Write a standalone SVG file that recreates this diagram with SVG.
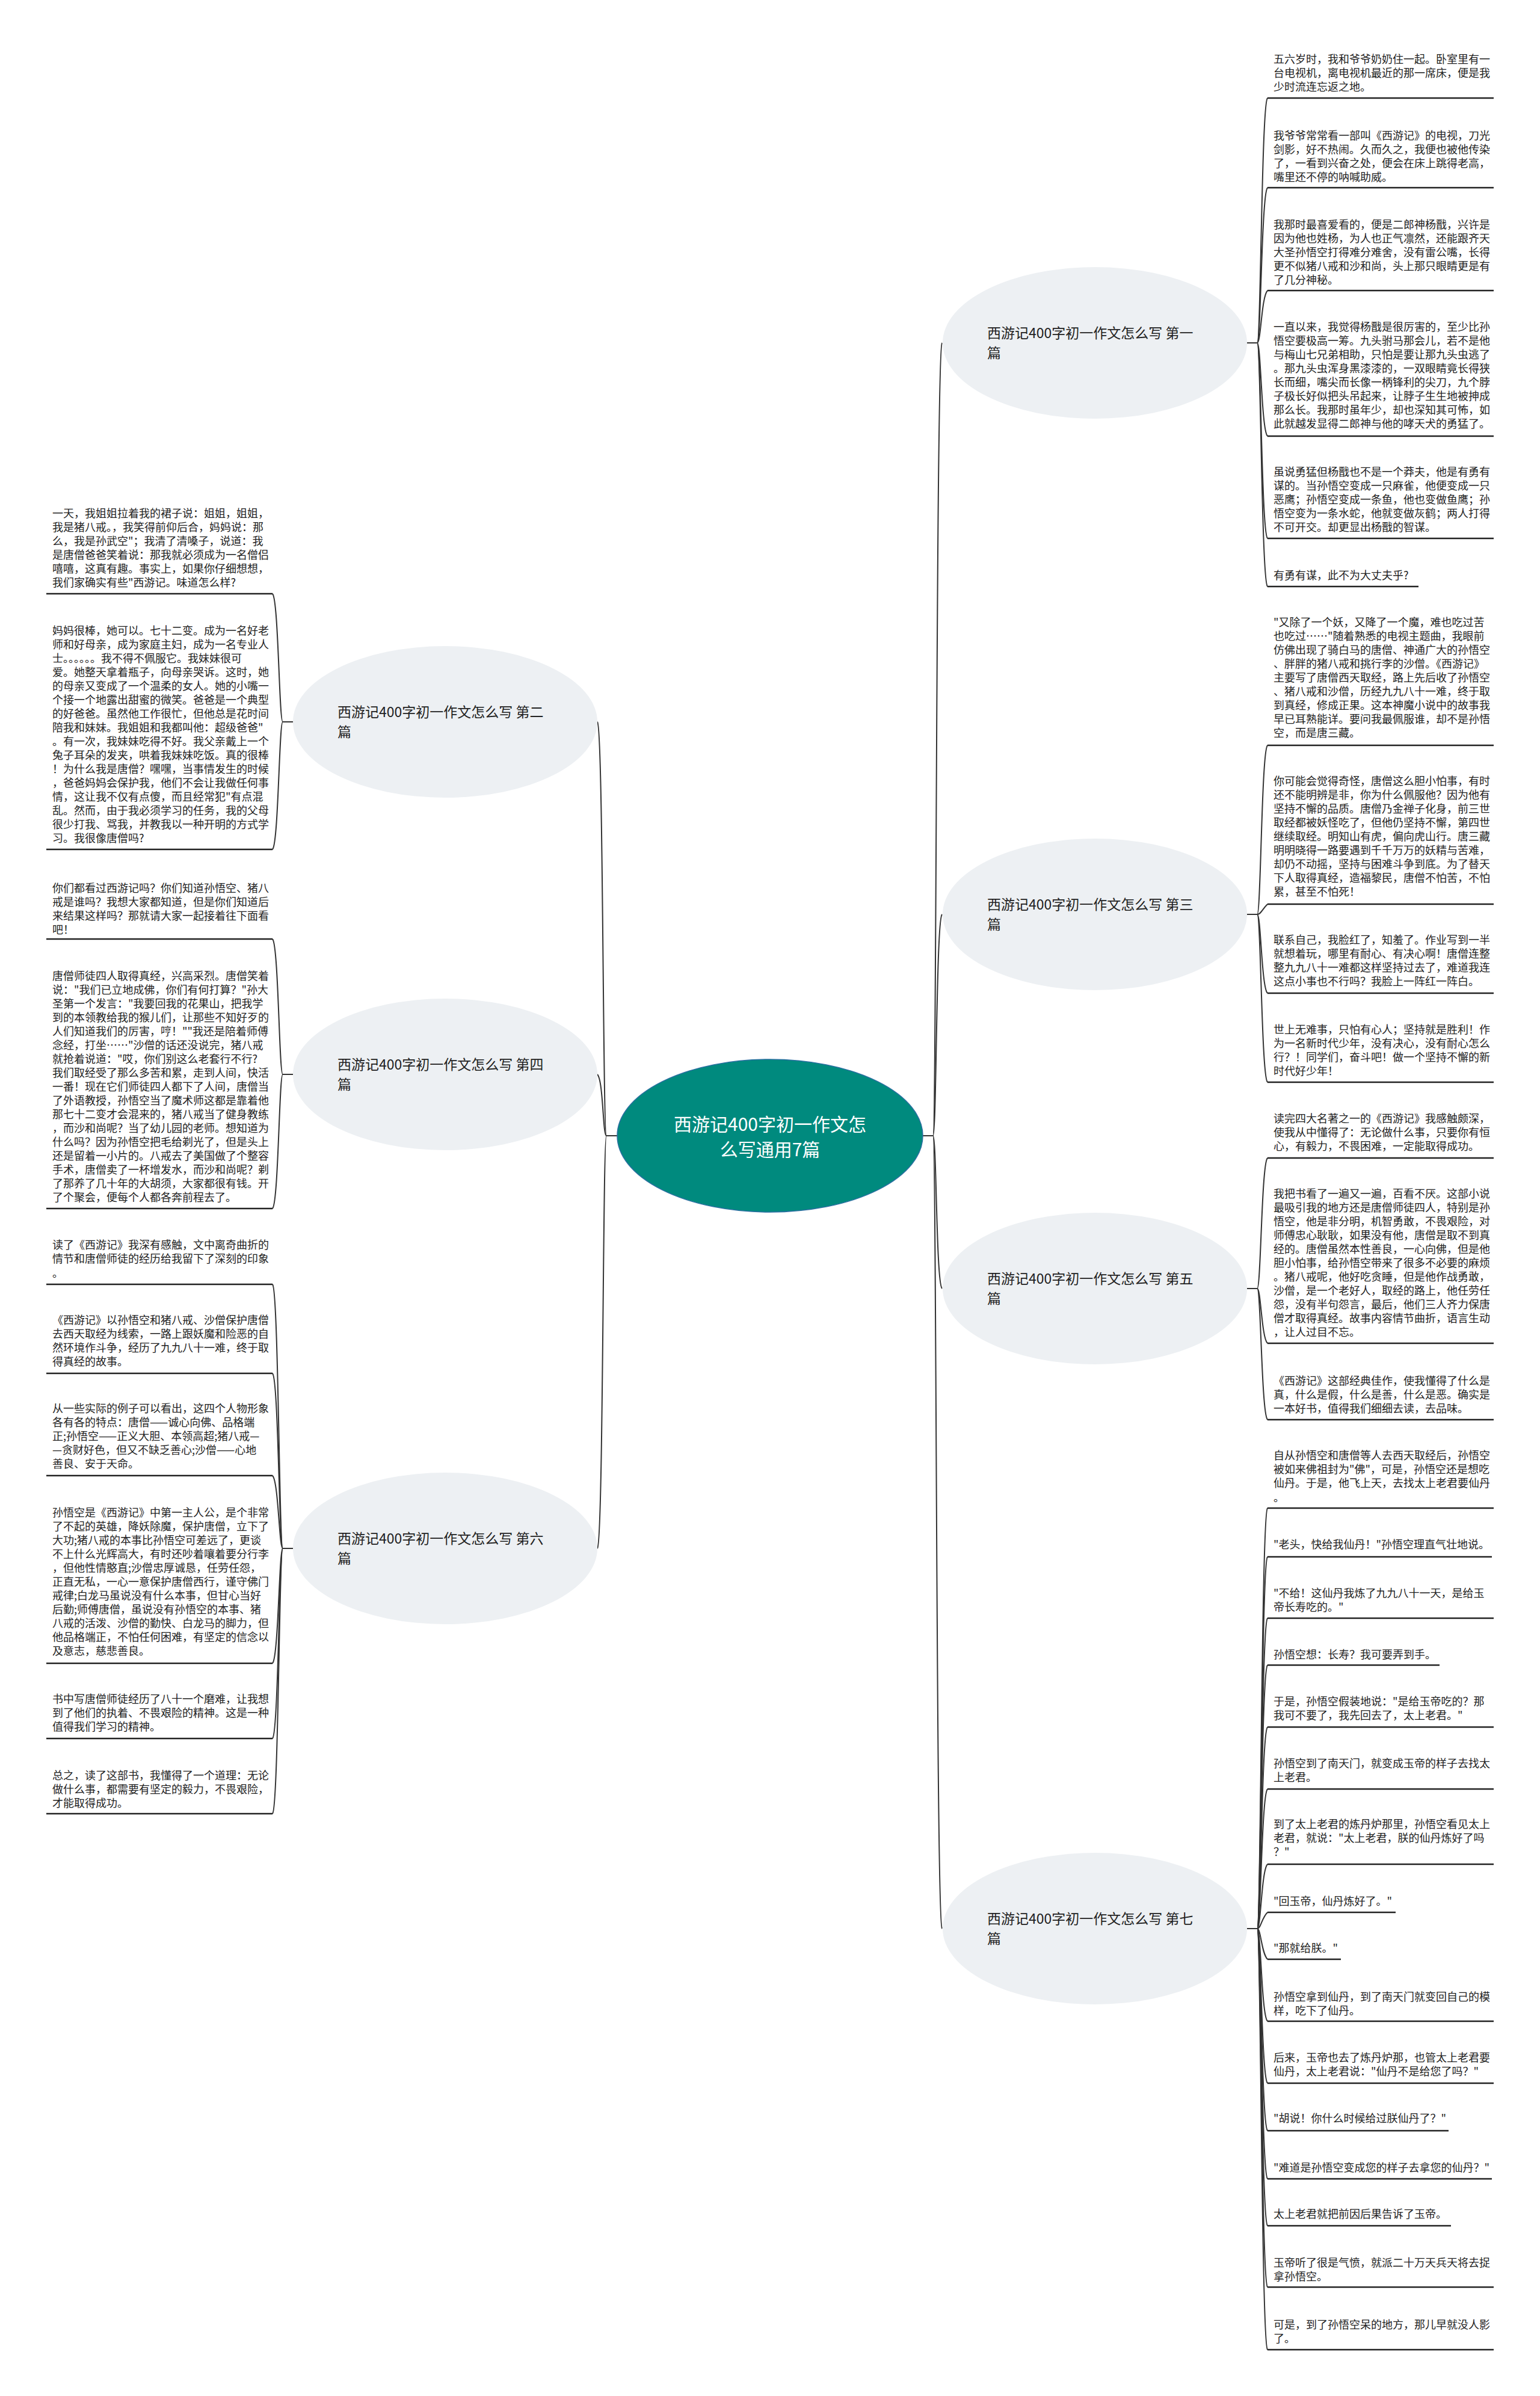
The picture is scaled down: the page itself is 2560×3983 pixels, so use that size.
<svg xmlns="http://www.w3.org/2000/svg" width="2560" height="3983" viewBox="0 0 2560 3983">
<style>
text{font-family:"Noto Sans CJK SC","Noto Sans",sans-serif;}
.lt{font-size:18px;fill:#222;}
.bt{font-size:23px;fill:#222;}
.ct{font-size:30px;fill:#fff;text-anchor:middle;}
.ul{stroke:#222;stroke-width:2.5;}
.br{fill:#EDF0F3;}
.conn path{fill:none;stroke:#333;stroke-width:2;}
</style>
<rect width="2560" height="3983" fill="#fff"/>
<g class="conn" id="connectors">
<path d="M1534,1888 H1551 C1557,1888 1556,580 1566,570"/>
<path d="M1534,1888 H1551 C1557,1888 1556,1530 1566,1520"/>
<path d="M1534,1888 H1551 C1557,1888 1556,2132 1566,2142"/>
<path d="M1534,1888 H1551 C1557,1888 1556,3196 1566,3206"/>
<path d="M1026,1888 H1008 C1002,1888 1003,1210 993,1200"/>
<path d="M1026,1888 H1008 C1002,1888 1003,1796 993,1786"/>
<path d="M1026,1888 H1008 C1002,1888 1003,2564 993,2574"/>
<path d="M2073,570 H2090 C2096,570 2097,173 2107,163"/>
<path d="M2073,570 H2090 C2096,570 2097,322 2107,312"/>
<path d="M2073,570 H2090 C2096,570 2097,493 2107,483"/>
<path d="M2073,570 H2090 C2096,570 2097,715 2107,725"/>
<path d="M2073,570 H2090 C2096,570 2097,885 2107,895"/>
<path d="M2073,570 H2090 C2096,570 2097,965 2107,975"/>
<path d="M2073,1520 H2090 C2096,1520 2097,1249 2107,1239"/>
<path d="M2073,1520 H2090 C2096,1520 2097,1513 2107,1503"/>
<path d="M2073,1520 H2090 C2096,1520 2097,1641 2107,1651"/>
<path d="M2073,1520 H2090 C2096,1520 2097,1789 2107,1799"/>
<path d="M2073,2142 H2090 C2096,2142 2097,1935 2107,1925"/>
<path d="M2073,2142 H2090 C2096,2142 2097,2223 2107,2233"/>
<path d="M2073,2142 H2090 C2096,2142 2097,2350 2107,2360"/>
<path d="M2073,3206 H2090 C2096,3206 2097,2517 2107,2507"/>
<path d="M2073,3206 H2090 C2096,3206 2097,2598 2107,2588"/>
<path d="M2073,3206 H2090 C2096,3206 2097,2700 2107,2690"/>
<path d="M2073,3206 H2090 C2096,3206 2097,2778 2107,2768"/>
<path d="M2073,3206 H2090 C2096,3206 2097,2881 2107,2871"/>
<path d="M2073,3206 H2090 C2096,3206 2097,2984 2107,2974"/>
<path d="M2073,3206 H2090 C2096,3206 2097,3109 2107,3099"/>
<path d="M2073,3206 H2090 C2096,3206 2097,3189 2107,3179"/>
<path d="M2073,3206 H2090 C2096,3206 2097,3247 2107,3257"/>
<path d="M2073,3206 H2090 C2096,3206 2097,3350 2107,3360"/>
<path d="M2073,3206 H2090 C2096,3206 2097,3453 2107,3463"/>
<path d="M2073,3206 H2090 C2096,3206 2097,3532 2107,3542"/>
<path d="M2073,3206 H2090 C2096,3206 2097,3612 2107,3622"/>
<path d="M2073,3206 H2090 C2096,3206 2097,3690 2107,3700"/>
<path d="M2073,3206 H2090 C2096,3206 2097,3792 2107,3802"/>
<path d="M2073,3206 H2090 C2096,3206 2097,3896 2107,3906"/>
<path d="M487,1200 H470 C464,1200 463,997 453,987"/>
<path d="M487,1200 H470 C464,1200 463,1402 453,1412"/>
<path d="M487,1786 H470 C464,1786 463,1571 453,1561"/>
<path d="M487,1786 H470 C464,1786 463,1999 453,2009"/>
<path d="M487,2574 H470 C464,2574 463,2145 453,2135"/>
<path d="M487,2574 H470 C464,2574 463,2293 453,2283"/>
<path d="M487,2574 H470 C464,2574 463,2463 453,2453"/>
<path d="M487,2574 H470 C464,2574 463,2755 453,2765"/>
<path d="M487,2574 H470 C464,2574 463,2880 453,2890"/>
<path d="M487,2574 H470 C464,2574 463,3005 453,3015"/>
</g>
<g id="center">
<ellipse cx="1280" cy="1888" rx="254" ry="127" fill="#008A7E" stroke="#2A6FA0" stroke-width="1.5"/>
<text class="ct"><tspan x="1280" y="1880">西游记400字初一作文怎</tspan><tspan x="1280" y="1922">么写通用7篇</tspan></text>
</g>
<g id="b1"><ellipse class="br" cx="1820" cy="570" rx="253" ry="126"/><text class="bt"><tspan x="1641" y="561.5">西游记400字初一作文怎么写 第一</tspan><tspan x="1641" y="594.5">篇</tspan></text></g>
<g id="b2"><ellipse class="br" cx="740" cy="1200" rx="253" ry="126"/><text class="bt"><tspan x="561" y="1191.5">西游记400字初一作文怎么写 第二</tspan><tspan x="561" y="1224.5">篇</tspan></text></g>
<g id="b3"><ellipse class="br" cx="1820" cy="1520" rx="253" ry="126"/><text class="bt"><tspan x="1641" y="1511.5">西游记400字初一作文怎么写 第三</tspan><tspan x="1641" y="1544.5">篇</tspan></text></g>
<g id="b4"><ellipse class="br" cx="740" cy="1786" rx="253" ry="126"/><text class="bt"><tspan x="561" y="1777.5">西游记400字初一作文怎么写 第四</tspan><tspan x="561" y="1810.5">篇</tspan></text></g>
<g id="b5"><ellipse class="br" cx="1820" cy="2142" rx="253" ry="126"/><text class="bt"><tspan x="1641" y="2133.5">西游记400字初一作文怎么写 第五</tspan><tspan x="1641" y="2166.5">篇</tspan></text></g>
<g id="b6"><ellipse class="br" cx="740" cy="2574" rx="253" ry="126"/><text class="bt"><tspan x="561" y="2565.5">西游记400字初一作文怎么写 第六</tspan><tspan x="561" y="2598.5">篇</tspan></text></g>
<g id="b7"><ellipse class="br" cx="1820" cy="3206" rx="253" ry="126"/><text class="bt"><tspan x="1641" y="3197.5">西游记400字初一作文怎么写 第七</tspan><tspan x="1641" y="3230.5">篇</tspan></text></g>

<g id="r1a"><text class="lt" x="2117" y="105.3"><tspan x="2117" y="105.3">五六岁时，我和爷爷奶奶住一起。卧室里有一</tspan><tspan x="2117" dy="23">台电视机，离电视机最近的那一席床，便是我</tspan><tspan x="2117" dy="23">少时流连忘返之地。</tspan></text><line class="ul" x1="2107" y1="163" x2="2483" y2="163"/></g>
<g id="r1b"><text class="lt" x="2117" y="231.8"><tspan x="2117" y="231.8">我爷爷常常看一部叫《西游记》的电视，刀光</tspan><tspan x="2117" dy="23">剑影，好不热闹。久而久之，我便也被他传染</tspan><tspan x="2117" dy="23">了，一看到兴奋之处，便会在床上跳得老高，</tspan><tspan x="2117" dy="23">嘴里还不停的呐喊助威。</tspan></text><line class="ul" x1="2107" y1="312" x2="2483" y2="312"/></g>
<g id="r1c"><text class="lt" x="2117" y="380"><tspan x="2117" y="380">我那时最喜爱看的，便是二郎神杨戬，兴许是</tspan><tspan x="2117" dy="23">因为他也姓杨，为人也正气凛然，还能跟齐天</tspan><tspan x="2117" dy="23">大圣孙悟空打得难分难舍，没有雷公嘴，长得</tspan><tspan x="2117" dy="23">更不似猪八戒和沙和尚，头上那只眼睛更是有</tspan><tspan x="2117" dy="23">了几分神秘。</tspan></text><line class="ul" x1="2107" y1="483" x2="2483" y2="483"/></g>
<g id="r1d"><text class="lt" x="2117" y="550.2"><tspan x="2117" y="550.2">一直以来，我觉得杨戬是很厉害的，至少比孙</tspan><tspan x="2117" dy="23">悟空要极高一筹。九头驸马那会儿，若不是他</tspan><tspan x="2117" dy="23">与梅山七兄弟相助，只怕是要让那九头虫逃了</tspan><tspan x="2117" dy="23">。那九头虫浑身黑漆漆的，一双眼睛竟长得狭</tspan><tspan x="2117" dy="23">长而细，嘴尖而长像一柄锋利的尖刀，九个脖</tspan><tspan x="2117" dy="23">子极长好似把头吊起来，让脖子生生地被抻成</tspan><tspan x="2117" dy="23">那么长。我那时虽年少，却也深知其可怖，如</tspan><tspan x="2117" dy="23">此就越发显得二郎神与他的哮天犬的勇猛了。</tspan></text><line class="ul" x1="2107" y1="725" x2="2483" y2="725"/></g>
<g id="r1e"><text class="lt" x="2117" y="791.3"><tspan x="2117" y="791.3">虽说勇猛但杨戬也不是一个莽夫，他是有勇有</tspan><tspan x="2117" dy="23">谋的。当孙悟空变成一只麻雀，他便变成一只</tspan><tspan x="2117" dy="23">恶鹰；孙悟空变成一条鱼，他也变做鱼鹰；孙</tspan><tspan x="2117" dy="23">悟空变为一条水蛇，他就变做灰鹤；两人打得</tspan><tspan x="2117" dy="23">不可开交。却更显出杨戬的智谋。</tspan></text><line class="ul" x1="2107" y1="895" x2="2483" y2="895"/></g>
<g id="r1f"><text class="lt" x="2117" y="963.2">有勇有谋，此不为大丈夫乎?</text><line class="ul" x1="2107" y1="975" x2="2358" y2="975"/></g>

<g id="r3a"><text class="lt" x="2117" y="1040.8"><tspan x="2117" y="1040.8">"又除了一个妖，又降了一个魔，难也吃过苦</tspan><tspan x="2117" dy="23">也吃过……"随着熟悉的电视主题曲，我眼前</tspan><tspan x="2117" dy="23">仿佛出现了骑白马的唐僧、神通广大的孙悟空</tspan><tspan x="2117" dy="23">、胖胖的猪八戒和挑行李的沙僧。《西游记》</tspan><tspan x="2117" dy="23">主要写了唐僧西天取经，路上先后收了孙悟空</tspan><tspan x="2117" dy="23">、猪八戒和沙僧，历经九九八十一难，终于取</tspan><tspan x="2117" dy="23">到真经，修成正果。这本神魔小说中的故事我</tspan><tspan x="2117" dy="23">早已耳熟能详。要问我最佩服谁，却不是孙悟</tspan><tspan x="2117" dy="23">空，而是唐三藏。</tspan></text><line class="ul" x1="2107" y1="1239" x2="2483" y2="1239"/></g>
<g id="r3b"><text class="lt" x="2117" y="1304.6"><tspan x="2117" y="1304.6">你可能会觉得奇怪，唐僧这么胆小怕事，有时</tspan><tspan x="2117" dy="23">还不能明辨是非，你为什么佩服他？因为他有</tspan><tspan x="2117" dy="23">坚持不懈的品质。唐僧乃金禅子化身，前三世</tspan><tspan x="2117" dy="23">取经都被妖怪吃了，但他仍坚持不懈，第四世</tspan><tspan x="2117" dy="23">继续取经。明知山有虎，偏向虎山行。唐三藏</tspan><tspan x="2117" dy="23">明明晓得一路要遇到千千万万的妖精与苦难，</tspan><tspan x="2117" dy="23">却仍不动摇，坚持与困难斗争到底。为了替天</tspan><tspan x="2117" dy="23">下人取得真经，造福黎民，唐僧不怕苦，不怕</tspan><tspan x="2117" dy="23">累，甚至不怕死！</tspan></text><line class="ul" x1="2107" y1="1503" x2="2483" y2="1503"/></g>
<g id="r3c"><text class="lt" x="2117" y="1568.8"><tspan x="2117" y="1568.8">联系自己，我脸红了，知羞了。作业写到一半</tspan><tspan x="2117" dy="23">就想着玩，哪里有耐心、有决心啊！唐僧连整</tspan><tspan x="2117" dy="23">整九九八十一难都这样坚持过去了，难道我连</tspan><tspan x="2117" dy="23">这点小事也不行吗？我脸上一阵红一阵白。</tspan></text><line class="ul" x1="2107" y1="1651" x2="2483" y2="1651"/></g>
<g id="r3d"><text class="lt" x="2117" y="1718.1"><tspan x="2117" y="1718.1">世上无难事，只怕有心人；坚持就是胜利！作</tspan><tspan x="2117" dy="23">为一名新时代少年，没有决心，没有耐心怎么</tspan><tspan x="2117" dy="23">行？！同学们，奋斗吧！做一个坚持不懈的新</tspan><tspan x="2117" dy="23">时代好少年！</tspan></text><line class="ul" x1="2107" y1="1799" x2="2483" y2="1799"/></g>

<g id="r5a"><text class="lt" x="2117" y="1865.6"><tspan x="2117" y="1865.6">读完四大名著之一的《西游记》我感触颇深，</tspan><tspan x="2117" dy="23">使我从中懂得了：无论做什么事，只要你有恒</tspan><tspan x="2117" dy="23">心，有毅力，不畏困难，一定能取得成功。</tspan></text><line class="ul" x1="2107" y1="1925" x2="2483" y2="1925"/></g>
<g id="r5b"><text class="lt" x="2117" y="1990.7"><tspan x="2117" y="1990.7">我把书看了一遍又一遍，百看不厌。这部小说</tspan><tspan x="2117" dy="23">最吸引我的地方还是唐僧师徒四人，特别是孙</tspan><tspan x="2117" dy="23">悟空，他是非分明，机智勇敢，不畏艰险，对</tspan><tspan x="2117" dy="23">师傅忠心耿耿，如果没有他，唐僧是取不到真</tspan><tspan x="2117" dy="23">经的。唐僧虽然本性善良，一心向佛，但是他</tspan><tspan x="2117" dy="23">胆小怕事，给孙悟空带来了很多不必要的麻烦</tspan><tspan x="2117" dy="23">。猪八戒呢，他好吃贪睡，但是他作战勇敢，</tspan><tspan x="2117" dy="23">沙僧，是一个老好人，取经的路上，他任劳任</tspan><tspan x="2117" dy="23">怨，没有半句怨言，最后，他们三人齐力保唐</tspan><tspan x="2117" dy="23">僧才取得真经。故事内容情节曲折，语言生动</tspan><tspan x="2117" dy="23">，让人过目不忘。</tspan></text><line class="ul" x1="2107" y1="2233" x2="2483" y2="2233"/></g>
<g id="r5c"><text class="lt" x="2117" y="2302.1"><tspan x="2117" y="2302.1">《西游记》这部经典佳作，使我懂得了什么是</tspan><tspan x="2117" dy="23">真，什么是假，什么是善，什么是恶。确实是</tspan><tspan x="2117" dy="23">一本好书，值得我们细细去读，去品味。</tspan></text><line class="ul" x1="2107" y1="2360" x2="2483" y2="2360"/></g>

<g id="r7a"><text class="lt" x="2117" y="2425.8"><tspan x="2117" y="2425.8">自从孙悟空和唐僧等人去西天取经后，孙悟空</tspan><tspan x="2117" dy="23">被如来佛祖封为"佛"，可是，孙悟空还是想吃</tspan><tspan x="2117" dy="23">仙丹。于是，他飞上天，去找太上老君要仙丹</tspan><tspan x="2117" dy="24">。</tspan></text><line class="ul" x1="2107" y1="2507" x2="2483" y2="2507"/></g>
<g id="r7b"><text class="lt" x="2117" y="2574">"老头，快给我仙丹！"孙悟空理直气壮地说。</text><line class="ul" x1="2107" y1="2588" x2="2480" y2="2588"/></g>
<g id="r7c"><text class="lt" x="2117" y="2654.5"><tspan x="2117" y="2654.5">"不给！这仙丹我炼了九九八十一天，是给玉</tspan><tspan x="2117" dy="23">帝长寿吃的。"</tspan></text><line class="ul" x1="2107" y1="2690" x2="2483" y2="2690"/></g>
<g id="r7d"><text class="lt" x="2117" y="2757">孙悟空想：长寿？我可要弄到手。</text><line class="ul" x1="2107" y1="2768" x2="2393" y2="2768"/></g>
<g id="r7e"><text class="lt" x="2117" y="2835.3"><tspan x="2117" y="2835.3">于是，孙悟空假装地说："是给玉帝吃的？那</tspan><tspan x="2117" dy="23">我可不要了，我先回去了，太上老君。"</tspan></text><line class="ul" x1="2107" y1="2871" x2="2483" y2="2871"/></g>
<g id="r7f"><text class="lt" x="2117" y="2938"><tspan x="2117" y="2938">孙悟空到了南天门，就变成玉帝的样子去找太</tspan><tspan x="2117" dy="23">上老君。</tspan></text><line class="ul" x1="2107" y1="2974" x2="2483" y2="2974"/></g>
<g id="r7g"><text class="lt" x="2117" y="3038.5"><tspan x="2117" y="3038.5">到了太上老君的炼丹炉那里，孙悟空看见太上</tspan><tspan x="2117" dy="23">老君，就说："太上老君，朕的仙丹炼好了吗</tspan><tspan x="2117" dy="23">？"</tspan></text><line class="ul" x1="2107" y1="3099" x2="2483" y2="3099"/></g>
<g id="r7h"><text class="lt" x="2117" y="3166.5">"回玉帝，仙丹炼好了。"</text><line class="ul" x1="2107" y1="3179" x2="2320" y2="3179"/></g>
<g id="r7i"><text class="lt" x="2117" y="3244.5">"那就给朕。"</text><line class="ul" x1="2107" y1="3257" x2="2229" y2="3257"/></g>
<g id="r7j"><text class="lt" x="2117" y="3326"><tspan x="2117" y="3326">孙悟空拿到仙丹，到了南天门就变回自己的模</tspan><tspan x="2117" dy="23">样，吃下了仙丹。</tspan></text><line class="ul" x1="2107" y1="3360" x2="2483" y2="3360"/></g>
<g id="r7k"><text class="lt" x="2117" y="3426.5"><tspan x="2117" y="3426.5">后来，玉帝也去了炼丹炉那，也管太上老君要</tspan><tspan x="2117" dy="23">仙丹，太上老君说："仙丹不是给您了吗？"</tspan></text><line class="ul" x1="2107" y1="3463" x2="2483" y2="3463"/></g>
<g id="r7l"><text class="lt" x="2117" y="3528">"胡说！你什么时候给过朕仙丹了？"</text><line class="ul" x1="2107" y1="3542" x2="2408" y2="3542"/></g>
<g id="r7m"><text class="lt" x="2117" y="3609.5">"难道是孙悟空变成您的样子去拿您的仙丹？"</text><line class="ul" x1="2107" y1="3622" x2="2480" y2="3622"/></g>
<g id="r7n"><text class="lt" x="2117" y="3686.5">太上老君就把前因后果告诉了玉帝。</text><line class="ul" x1="2107" y1="3700" x2="2412" y2="3700"/></g>
<g id="r7o"><text class="lt" x="2117" y="3768"><tspan x="2117" y="3768">玉帝听了很是气愤，就派二十万天兵天将去捉</tspan><tspan x="2117" dy="23">拿孙悟空。</tspan></text><line class="ul" x1="2107" y1="3802" x2="2483" y2="3802"/></g>
<g id="r7p"><text class="lt" x="2117" y="3870.5"><tspan x="2117" y="3870.5">可是，到了孙悟空呆的地方，那儿早就没人影</tspan><tspan x="2117" dy="23">了。</tspan></text><line class="ul" x1="2107" y1="3906" x2="2483" y2="3906"/></g>

<g id="l2a"><text class="lt" x="87" y="860.2"><tspan x="87" y="860.2">一天，我姐姐拉着我的裙子说：姐姐，姐姐，</tspan><tspan x="87" dy="23">我是猪八戒。，我笑得前仰后合，妈妈说：那</tspan><tspan x="87" dy="23">么，我是孙武空"；我清了清嗓子，说道：我</tspan><tspan x="87" dy="23">是唐僧爸爸笑着说：那我就必须成为一名僧侣</tspan><tspan x="87" dy="23">嘻嘻，这真有趣。事实上，如果你仔细想想，</tspan><tspan x="87" dy="23">我们家确实有些"西游记。味道怎么样?</tspan></text><line class="ul" x1="77" y1="987" x2="453" y2="987"/></g>
<g id="l2b"><text class="lt" x="87" y="1054.6"><tspan x="87" y="1054.6">妈妈很棒，她可以。七十二变。成为一名好老</tspan><tspan x="87" dy="23">师和好母亲，成为家庭主妇，成为一名专业人</tspan><tspan x="87" dy="23">士。。。。。。我不得不佩服它。我妹妹很可</tspan><tspan x="87" dy="23">爱。她整天拿着瓶子，向母亲哭诉。这时，她</tspan><tspan x="87" dy="23">的母亲又变成了一个温柔的女人。她的小嘴一</tspan><tspan x="87" dy="23">个接一个地露出甜蜜的微笑。爸爸是一个典型</tspan><tspan x="87" dy="23">的好爸爸。虽然他工作很忙，但他总是花时间</tspan><tspan x="87" dy="23">陪我和妹妹。我姐姐和我都叫他：超级爸爸"</tspan><tspan x="87" dy="23">。有一次，我妹妹吃得不好。我父亲戴上一个</tspan><tspan x="87" dy="23">兔子耳朵的发夹，哄着我妹妹吃饭。真的很棒</tspan><tspan x="87" dy="23">！为什么我是唐僧？嘿嘿，当事情发生的时候</tspan><tspan x="87" dy="23">，爸爸妈妈会保护我，他们不会让我做任何事</tspan><tspan x="87" dy="23">情，这让我不仅有点傻，而且经常犯"有点混</tspan><tspan x="87" dy="23">乱。然而，由于我必须学习的任务，我的父母</tspan><tspan x="87" dy="23">很少打我、骂我，并教我以一种开明的方式学</tspan><tspan x="87" dy="23">习。我很像唐僧吗?</tspan></text><line class="ul" x1="77" y1="1412" x2="453" y2="1412"/></g>
<g id="l4a"><text class="lt" x="87" y="1482.7"><tspan x="87" y="1482.7">你们都看过西游记吗？你们知道孙悟空、猪八</tspan><tspan x="87" dy="23">戒是谁吗？我想大家都知道，但是你们知道后</tspan><tspan x="87" dy="23">来结果这样吗？那就请大家一起接着往下面看</tspan><tspan x="87" dy="23">吧！</tspan></text><line class="ul" x1="77" y1="1561" x2="453" y2="1561"/></g>
<g id="l4b"><text class="lt" x="87" y="1628.9"><tspan x="87" y="1628.9">唐僧师徒四人取得真经，兴高采烈。唐僧笑着</tspan><tspan x="87" dy="23">说："我们已立地成佛，你们有何打算？"孙大</tspan><tspan x="87" dy="23">圣第一个发言："我要回我的花果山，把我学</tspan><tspan x="87" dy="23">到的本领教给我的猴儿们，让那些不知好歹的</tspan><tspan x="87" dy="23">人们知道我们的厉害，哼！""我还是陪着师傅</tspan><tspan x="87" dy="23">念经，打坐……"沙僧的话还没说完，猪八戒</tspan><tspan x="87" dy="23">就抢着说道："哎，你们别这么老套行不行?</tspan><tspan x="87" dy="23">我们取经受了那么多苦和累，走到人间，快活</tspan><tspan x="87" dy="23">一番！现在它们师徒四人都下了人间，唐僧当</tspan><tspan x="87" dy="23">了外语教授，孙悟空当了魔术师这都是靠着他</tspan><tspan x="87" dy="23">那七十二变才会混来的，猪八戒当了健身教练</tspan><tspan x="87" dy="23">，而沙和尚呢？当了幼儿园的老师。想知道为</tspan><tspan x="87" dy="23">什么吗？因为孙悟空把毛给剃光了，但是头上</tspan><tspan x="87" dy="23">还是留着一小片的。八戒去了美国做了个整容</tspan><tspan x="87" dy="23">手术，唐僧卖了一杯增发水，而沙和尚呢？剃</tspan><tspan x="87" dy="23">了那养了几十年的大胡须，大家都很有钱。开</tspan><tspan x="87" dy="23">了个聚会，便每个人都各奔前程去了。</tspan></text><line class="ul" x1="77" y1="2009" x2="453" y2="2009"/></g>
<g id="l6a"><text class="lt" x="87" y="2076.2"><tspan x="87" y="2076.2">读了《西游记》我深有感触，文中离奇曲折的</tspan><tspan x="87" dy="23">情节和唐僧师徒的经历给我留下了深刻的印象</tspan><tspan x="87" dy="24">。</tspan></text><line class="ul" x1="77" y1="2135" x2="453" y2="2135"/></g>
<g id="l6b"><text class="lt" x="87" y="2200.6"><tspan x="87" y="2200.6">《西游记》以孙悟空和猪八戒、沙僧保护唐僧</tspan><tspan x="87" dy="23">去西天取经为线索，一路上跟妖魔和险恶的自</tspan><tspan x="87" dy="23">然环境作斗争，经历了九九八十一难，终于取</tspan><tspan x="87" dy="23">得真经的故事。</tspan></text><line class="ul" x1="77" y1="2283" x2="453" y2="2283"/></g>
<g id="l6c"><text class="lt" x="87" y="2348.2"><tspan x="87" y="2348.2">从一些实际的例子可以看出，这四个人物形象</tspan><tspan x="87" dy="23">各有各的特点：唐僧——诚心向佛、品格端</tspan><tspan x="87" dy="23">正;孙悟空——正义大胆、本领高超;猪八戒—</tspan><tspan x="87" dy="23">—贪财好色，但又不缺乏善心;沙僧——心地</tspan><tspan x="87" dy="23">善良、安于天命。</tspan></text><line class="ul" x1="77" y1="2453" x2="453" y2="2453"/></g>
<g id="l6d"><text class="lt" x="87" y="2520.7"><tspan x="87" y="2520.7">孙悟空是《西游记》中第一主人公，是个非常</tspan><tspan x="87" dy="23">了不起的英雄，降妖除魔，保护唐僧，立下了</tspan><tspan x="87" dy="23">大功;猪八戒的本事比孙悟空可差远了，更谈</tspan><tspan x="87" dy="23">不上什么光辉高大，有时还吵着嚷着要分行李</tspan><tspan x="87" dy="23">，但他性情憨直;沙僧忠厚诚恳，任劳任怨，</tspan><tspan x="87" dy="23">正直无私，一心一意保护唐僧西行，谨守佛门</tspan><tspan x="87" dy="23">戒律;白龙马虽说没有什么本事，但甘心当好</tspan><tspan x="87" dy="23">后勤;师傅唐僧，虽说没有孙悟空的本事、猪</tspan><tspan x="87" dy="23">八戒的活泼、沙僧的勤快、白龙马的脚力，但</tspan><tspan x="87" dy="23">他品格端正，不怕任何困难，有坚定的信念以</tspan><tspan x="87" dy="23">及意志，慈悲善良。</tspan></text><line class="ul" x1="77" y1="2765" x2="453" y2="2765"/></g>
<g id="l6e"><text class="lt" x="87" y="2831"><tspan x="87" y="2831">书中写唐僧师徒经历了八十一个磨难，让我想</tspan><tspan x="87" dy="23">到了他们的执着、不畏艰险的精神。这是一种</tspan><tspan x="87" dy="23">值得我们学习的精神。</tspan></text><line class="ul" x1="77" y1="2890" x2="453" y2="2890"/></g>
<g id="l6f"><text class="lt" x="87" y="2957.8"><tspan x="87" y="2957.8">总之，读了这部书，我懂得了一个道理：无论</tspan><tspan x="87" dy="23">做什么事，都需要有坚定的毅力，不畏艰险，</tspan><tspan x="87" dy="23">才能取得成功。</tspan></text><line class="ul" x1="77" y1="3015" x2="453" y2="3015"/></g>
</svg>
